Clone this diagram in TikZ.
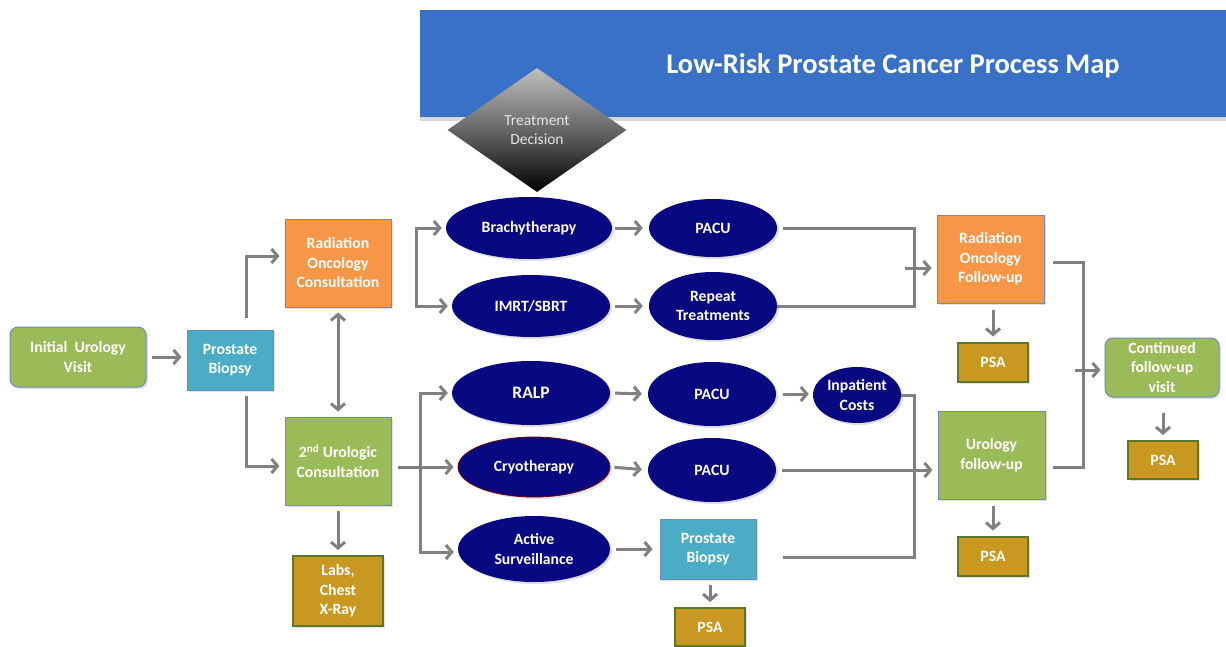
\documentclass[tikz,border=0pt]{standalone}
\usepackage{fontspec}
\setmainfont{Carlito}
\usetikzlibrary{shapes.geometric,arrows.meta,shadows,calc}
\definecolor{tblue}{RGB}{56,113,198}
\definecolor{navyE}{RGB}{8,8,128}
\definecolor{gfill}{RGB}{155,187,89}
\definecolor{ofill}{RGB}{247,150,70}
\definecolor{tfill}{RGB}{75,172,198}
\definecolor{pfill}{RGB}{200,152,32}
\definecolor{pborder}{RGB}{90,120,40}
\definecolor{bborder}{RGB}{110,140,185}
\definecolor{connc}{RGB}{128,128,128}
\tikzset{
  lbl/.style={font=\fontsize{15.7}{19.5}\selectfont\bfseries, text=white, align=center},
  box/.style={lbl, draw=bborder, line width=1pt, inner sep=0pt,
    drop shadow={opacity=0.25, shadow xshift=2pt, shadow yshift=-2pt}},
  gbox/.style={box, fill=gfill},
  obox/.style={box, fill=ofill},
  tbox/.style={box, fill=tfill},
  psabox/.style={lbl, fill=pfill, draw=pborder, line width=2pt, inner sep=0pt,
    drop shadow={opacity=0.25, shadow xshift=2pt, shadow yshift=-2pt}},
  ell/.style={lbl, ellipse, fill=navyE, inner sep=0pt,
    drop shadow={opacity=0.25, shadow xshift=2pt, shadow yshift=-2pt}},
  cline/.style={draw=connc, line width=3pt},
  conn/.style={cline, -{Straight Barb[length=6pt,width=14pt,line width=3pt]}},
  bconn/.style={cline, {Straight Barb[length=6pt,width=14pt,line width=3pt]}-{Straight Barb[length=6pt,width=14pt,line width=3pt]}},
}
\begin{document}
\begin{tikzpicture}[x=1pt,y=-1pt]
\useasboundingbox[fill=white] (0,0) rectangle (1226,646);
% title bar
\node[fill=tblue, minimum width=806, minimum height=107, inner sep=0pt,
  drop shadow={opacity=0.3, shadow xshift=0pt, shadow yshift=-4pt}] (title) at (823,63.5) {};
\node[font=\fontsize{28.5}{32}\selectfont\bfseries, text=white] (ttext) at (893,66) {Low-Risk Prostate Cancer Process Map};
% diamond
\node[diamond, shape aspect=1.44, minimum width=179, minimum height=124, inner sep=0pt,
  top color=black!25, bottom color=black, middle color=black!60,
  font=\fontsize{15.5}{19}\selectfont, text=black!10, align=center] (dec) at (537,130) {Treatment\\Decision};
% left boxes
\node[gbox, rounded corners=8pt, minimum width=136, minimum height=60] (iuv) at (78,357) {Initial\ \ Urology\\Visit};
\node[tbox, minimum width=86, minimum height=60] (pb) at (230,360) {Prostate\\Biopsy};
\node[obox, minimum width=106, minimum height=88] (roc) at (338,263) {Radiation\\Oncology\\Consultation};
\node[gbox, minimum width=106, minimum height=88] (uc2) at (338,461) {2\textsuperscript{nd} Urologic\\Consultation};
\node[psabox, minimum width=90, minimum height=70] (labs) at (338,591) {Labs,\\Chest\\X-Ray};
% ellipses
\node[ell, minimum width=166, minimum height=62] (brachy) at (529,228) {Brachytherapy};
\node[ell, minimum width=128, minimum height=58] (pacu1) at (713,228) {PACU};
\node[ell, minimum width=158, minimum height=62] (imrt) at (531,306) {IMRT/SBRT};
\node[ell, minimum width=128, minimum height=68] (rep) at (713,306) {Repeat\\Treatments};
\node[ell, minimum width=158, minimum height=64, font=\fontsize{17.5}{20}\selectfont\bfseries] (ralp) at (531,393) {RALP};
\node[ell, minimum width=128, minimum height=64] (pacu2) at (712,394) {PACU};
\node[ell, minimum width=88, minimum height=56] (inp) at (857,395) {Inpatient\\Costs};
\node[ell, draw=red!45!black, line width=0.8pt, minimum width=152, minimum height=60] (cryo) at (534,467) {Cryotherapy};
\node[ell, minimum width=128, minimum height=64] (pacu3) at (712,470) {PACU};
\node[ell, minimum width=152, minimum height=66] (as) at (534,549) {Active\\Surveillance};
\node[tbox, minimum width=96, minimum height=60] (pb2) at (708,549) {Prostate\\Biopsy};
\node[psabox, minimum width=70, minimum height=38] (psa3) at (710,627) {PSA};
% right boxes
\node[obox, minimum width=107, minimum height=88] (rof) at (990.5,259) {Radiation\\Oncology\\Follow-up};
\node[psabox, minimum width=70, minimum height=39] (psa1) at (993,362) {PSA};
\node[gbox, minimum width=107, minimum height=88] (uf) at (991.5,455) {Urology\\follow-up};
\node[psabox, minimum width=70, minimum height=39] (psa2) at (993,556) {PSA};
\node[gbox, rounded corners=8pt, minimum width=114, minimum height=59] (cfv) at (1162,367.5) {Continued\\follow-up\\visit};
\node[psabox, minimum width=70, minimum height=38] (psa4) at (1163,460) {PSA};
% coordinates
\coordinate (pbt) at (246,318);
\coordinate (pbb) at (246,396);
\coordinate (rb) at (416,306);
\coordinate (ub) at (420,552);
\coordinate (rm) at (914,306);
\coordinate (rma) at (905,268);
\coordinate (um) at (914,557);
\coordinate (fm) at (1083,467);
\coordinate (fa) at (1075,370);
% connectors
\draw[conn, shorten <=5pt, shorten >=5pt] (iuv.east) -- (iuv.east -| pb.west);
\draw[conn, shorten >=5pt, line join=miter] (pbt) |- ([yshift=7pt]roc.west);
\draw[conn, shorten >=5pt, line join=miter] (pbb) |- ([yshift=-5pt]uc2.west);
\draw[bconn, shorten <=5pt, shorten >=5pt] (roc.south) -- (uc2.north);
\draw[conn, shorten <=5pt, shorten >=5pt] (uc2.south) -- (labs.north);
\draw[bconn, shorten <=4pt, shorten >=4pt, line join=miter] (brachy.west) -| (rb) -- (rb -| imrt.west);
\draw[conn, shorten <=6pt, shorten >=4pt] (uc2.east |- cryo.west) -- (cryo.west);
\draw[bconn, shorten <=4pt, shorten >=4pt, line join=miter] (ralp.west) -| (ub) -- (ub -| as.west);
\draw[conn, shorten <=6pt, shorten >=6pt] (brachy.east -| pacu1.west) ++(-40,0) -- (pacu1.west);
\draw[conn, shorten <=5pt, shorten >=6pt] (imrt.east) -- (rep.west);
\draw[conn, shorten <=5pt, shorten >=6pt] (ralp.east) -- (pacu2.west);
\draw[conn, shorten <=4pt, shorten >=6pt] (cryo.east) -- (pacu3.west);
\draw[conn, shorten <=6pt, shorten >=7pt] (as.east) -- (as.east -| pb2.west);
\draw[conn, shorten <=7pt, shorten >=4pt] (pacu2.east) -- (pacu2.east -| inp.west);
\draw[conn, shorten <=5pt, shorten >=5pt] (pb2.south -| psa3.north) -- (psa3.north);
\draw[cline, shorten <=6pt, line join=miter] (pacu1.east) -| (rm) -- (rep.east);
\draw[conn, shorten >=5pt] (rma) -- (rma -| rof.west);
\draw[cline, line join=miter] (inp.east) -| (um) -- ([xshift=26pt]um -| pb2.east);
\draw[conn, shorten <=6pt, shorten >=5pt] (pacu3.east) -- (pacu3.east -| uf.west);
\draw[cline, line join=miter] ([xshift=8pt,yshift=-3pt]rof.east) -| (fm) -- ([xshift=7pt]fm -| uf.east);
\draw[conn, shorten >=4pt] (fa) -- (fa -| cfv.west);
\draw[conn, shorten <=6pt, shorten >=5pt] (rof.south -| psa1.north) -- (psa1.north);
\draw[conn, shorten <=6pt, shorten >=5pt] (uf.south -| psa2.north) -- (psa2.north);
\draw[conn, shorten <=15pt, shorten >=5pt] (cfv.south -| psa4.north) -- (psa4.north);
\end{tikzpicture}
\end{document}
